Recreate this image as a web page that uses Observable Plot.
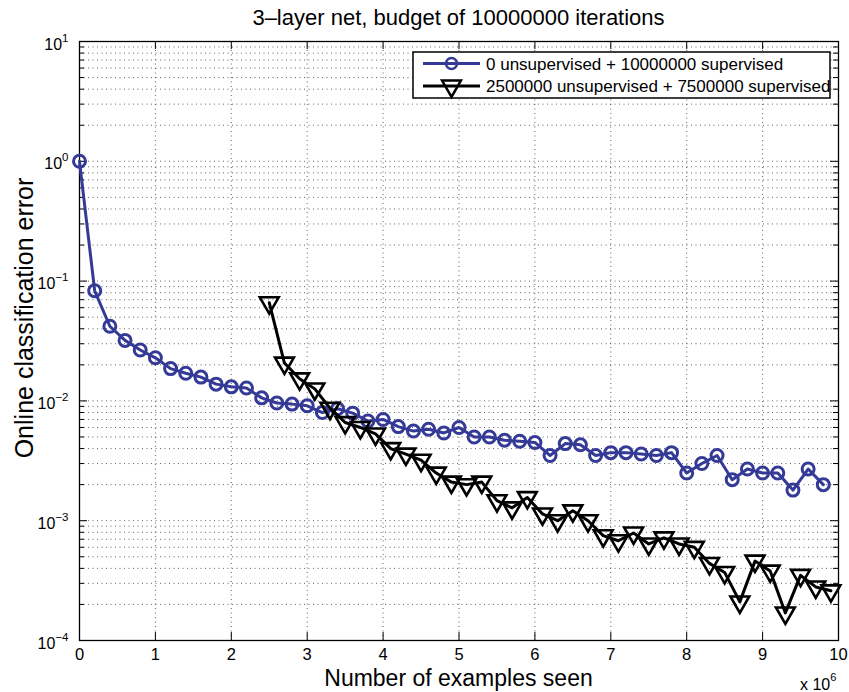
<!DOCTYPE html>
<html><head><meta charset="utf-8">
<script src="https://cdn.jsdelivr.net/npm/d3@7"></script>
<script src="https://cdn.jsdelivr.net/npm/@observablehq/plot@0.6"></script>
<style>html,body{margin:0;padding:0;background:#fff} #chart svg{display:block}</style>
</head><body><div id="chart"></div>
<script>
// ---- data (x in millions of examples) ----
const blueX = [0,0.2,0.4,0.6,0.8,1.0,1.2,1.4,1.6,1.8,2.0,2.2,2.4,2.6,2.8,3.0,3.2,3.4,3.6,3.8,4.0,4.2,4.4,4.6,4.8,5.0,5.2,5.4,5.6,5.8,6.0,6.2,6.4,6.6,6.8,7.0,7.2,7.4,7.6,7.8,8.0,8.2,8.4,8.6,8.8,9.0,9.2,9.4,9.6,9.8];
const blueY = [1.0,0.083,0.042,0.032,0.0266,0.0229,0.0186,0.017,0.0158,0.0138,0.0131,0.0128,0.0106,0.0096,0.0094,0.0091,0.0080,0.0086,0.0079,0.0068,0.0070,0.0061,0.0056,0.0058,0.0054,0.0060,0.0050,0.0050,0.0047,0.0046,0.0045,0.0035,0.0044,0.0043,0.0035,0.0037,0.0037,0.0036,0.0035,0.0037,0.0025,0.0030,0.0035,0.0022,0.0027,0.0025,0.0025,0.0018,0.0027,0.0020];
const blackX = [2.5,2.7,2.9,3.1,3.3,3.5,3.7,3.9,4.1,4.3,4.5,4.7,4.9,5.1,5.3,5.5,5.7,5.9,6.1,6.3,6.5,6.7,6.9,7.1,7.3,7.5,7.7,7.9,8.1,8.3,8.5,8.7,8.9,9.1,9.3,9.5,9.7,9.9];
const blackY = [0.066,0.0207,0.0153,0.0126,0.0087,0.0066,0.0060,0.0053,0.0040,0.0036,0.0032,0.0025,0.0021,0.0020,0.0021,0.00147,0.00128,0.00156,0.00114,0.00100,0.00121,0.00100,0.00075,0.00068,0.00079,0.00064,0.00072,0.00064,0.00060,0.00044,0.00037,0.00021,0.00046,0.00038,0.00017,0.00035,0.00028,0.00026];
const seriesNames = ["0 unsupervised + 10000000 supervised", "2500000 unsupervised + 7500000 supervised"];
const xTicks = [0,1,2,3,4,5,6,7,8,9,10];
const yMajor = [1e-4,1e-3,1e-2,1e-1,1,10];
const yMinorMult = [2,3,4,5,6,7,8,9];
const titleText = "3\u2013layer net, budget of 10000000 iterations";
const xLabel = "Number of examples seen";
const yLabel = "Online classification error";

// ---- layout ----
const W = 849, H = 692, mL = 79, mR = 11, mT = 41, mB = 52;
const innerW = W - mL - mR, innerH = H - mT - mB;
const blue = "#343a96";
const font = "'Liberation Sans', Arial, Helvetica, sans-serif";

const blueData = blueX.map((x, i) => ({x, y: blueY[i]}));
const blackData = blackX.map((x, i) => ({x, y: blackY[i]}));
const yMinor = yMajor.slice(0, -1).flatMap(d => yMinorMult.map(m => m * d));
const yGrid = yMajor.concat(yMinor).filter(v => v > 1e-4 && v < 10);
const gridStyle = {stroke: "#111", strokeWidth: 1, strokeDasharray: "1,3.5", strokeOpacity: 0.65};

const plot = Plot.plot({
  width: W, height: H,
  marginLeft: mL, marginRight: mR, marginTop: mT, marginBottom: mB,
  style: {fontFamily: font, background: "white", overflow: "visible", color: "#000"},
  x: {domain: [0, 10], label: null},
  y: {type: "log", domain: [1e-4, 10], label: null},
  marks: [
    Plot.ruleX(xTicks.slice(1, -1), {x: d => d, ...gridStyle}),
    Plot.ruleY(yGrid, {y: d => d, ...gridStyle}),
    Plot.tickX(xTicks, {x: d => d, insetTop: innerH - 8, stroke: "#000"}),
    Plot.tickX(xTicks, {x: d => d, insetBottom: innerH - 8, stroke: "#000"}),
    Plot.tickY(yMajor, {y: d => d, insetRight: innerW - 8, stroke: "#000"}),
    Plot.tickY(yMajor, {y: d => d, insetLeft: innerW - 8, stroke: "#000"}),
    Plot.tickY(yMinor, {y: d => d, insetRight: innerW - 5, stroke: "#000"}),
    Plot.tickY(yMinor, {y: d => d, insetLeft: innerW - 5, stroke: "#000"}),
    Plot.frame({stroke: "#000", strokeWidth: 1.3}),
    Plot.axisX({ticks: xTicks, tickSize: 0, tickPadding: 8, tickFormat: d => String(d), label: null}),
    Plot.axisY({ticks: yMajor, tickSize: 0, tickPadding: 11, dy: 3,
      tickFormat: d => "10^" + String(Math.round(Math.log10(d))).replace("-", "\u2212"), label: null}),
    Plot.line(blueData, {x: "x", y: "y", stroke: blue, strokeWidth: 3}),
    Plot.dot(blueData, {x: "x", y: "y", r: 6, stroke: blue, strokeWidth: 3, fill: "none"}),
    Plot.line(blackData, {x: "x", y: "y", stroke: "#000", strokeWidth: 3}),
    Plot.dot(blackData, {x: "x", y: "y", symbol: "triangle", rotate: 180, r: 7, stroke: "#000", strokeWidth: 2.6, fill: "none"})
  ]
});
document.getElementById("chart").appendChild(plot);

const svg = d3.select(plot);
// tick label sizes
svg.selectAll('g[aria-label="x-axis tick label"]').attr("font-size", 16.5);
svg.selectAll('g[aria-label="x-axis tick label"] text').attr("font-size", 16.5);
svg.selectAll('g[aria-label="y-axis tick label"]').attr("font-size", 16);
// superscript exponents on y tick labels
svg.selectAll('g[aria-label="y-axis tick label"] text').each(function() {
  const t = d3.select(this);
  const parts = this.textContent.split("^");
  t.attr("font-size", 16).text(parts[0]);
  t.append("tspan").attr("dy", "-8").attr("font-size", "11.5px").text(parts[1]);
});

// title and axis labels
svg.append("text").attr("x", (mL + W - mR) / 2).attr("y", 25).attr("text-anchor", "middle")
  .attr("font-family", font).attr("font-size", 22).attr("fill", "#000").text(titleText);
svg.append("text").attr("x", (mL + W - mR) / 2).attr("y", 686).attr("text-anchor", "middle")
  .attr("font-family", font).attr("font-size", 23).attr("fill", "#000").text(xLabel);
svg.append("text").attr("transform", "translate(33,318) rotate(-90)").attr("text-anchor", "middle")
  .attr("font-family", font).attr("font-size", 25).attr("fill", "#000").text(yLabel);
const mult = svg.append("text").attr("x", 800).attr("y", 690).attr("text-anchor", "start")
  .attr("font-family", font).attr("font-size", 16).attr("fill", "#000").text("x 10");
mult.append("tspan").attr("dy", "-9").attr("font-size", "11px").text("6");

// legend
const lg = svg.append("g");
lg.append("rect").attr("x", 413).attr("y", 52).attr("width", 417).attr("height", 46)
  .attr("fill", "#fff").attr("stroke", "#000").attr("stroke-width", 1.5);
const rows = [
  {name: seriesNames[0], color: blue, sym: "circle", y: 63.5},
  {name: seriesNames[1], color: "#000", sym: "tri", y: 86}
];
rows.forEach(r => {
  lg.append("line").attr("x1", 423).attr("x2", 480).attr("y1", r.y).attr("y2", r.y)
    .attr("stroke", r.color).attr("stroke-width", 3);
  if (r.sym === "circle") {
    lg.append("circle").attr("cx", 451.5).attr("cy", r.y).attr("r", 5.5)
      .attr("fill", "none").attr("stroke", r.color).attr("stroke-width", 2.5);
  } else {
    lg.append("path").attr("d", d3.symbol(d3.symbolTriangle, Math.PI * 49)())
      .attr("transform", `translate(451.5,${r.y}) rotate(180)`)
      .attr("fill", "none").attr("stroke", r.color).attr("stroke-width", 2.5);
  }
  lg.append("text").attr("x", 486).attr("y", r.y + 6).attr("text-anchor", "start")
    .attr("font-family", font).attr("font-size", 17).attr("fill", "#000").text(r.name);
});
</script>
</body></html>
